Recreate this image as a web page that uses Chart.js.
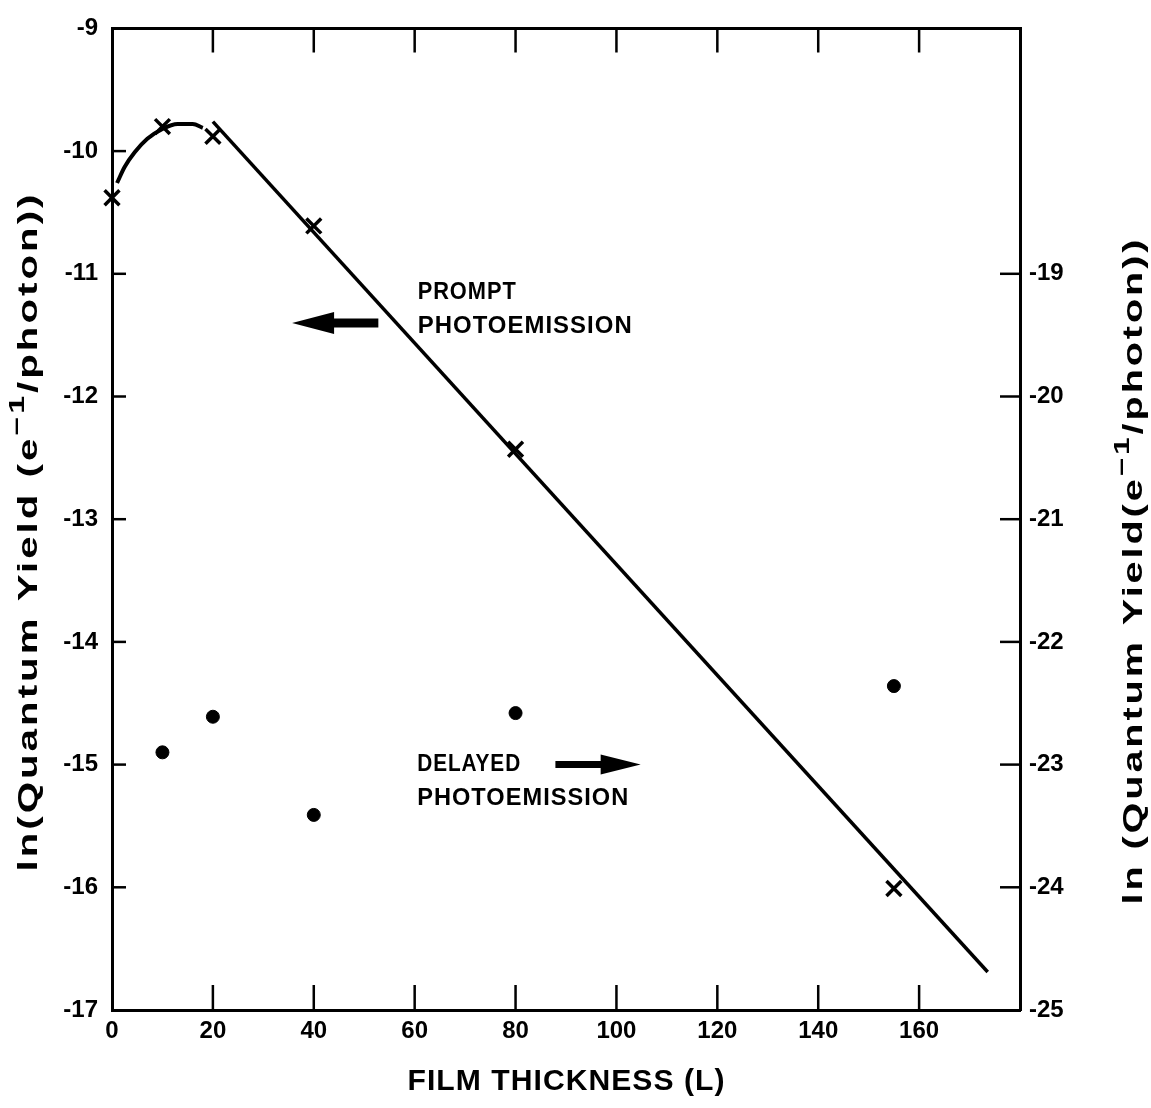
<!DOCTYPE html>
<html>
<head>
<meta charset="utf-8">
<script src="https://cdn.jsdelivr.net/npm/chart.js@4.4.1/dist/chart.umd.min.js"></script>
<style>
  html, body { margin: 0; padding: 0; background: #fff; }
  #wrap { width: 1151px; height: 1108px; position: relative; }
</style>
</head>
<body>
<div id="wrap"><canvas id="myChart"></canvas></div>
<script>
// values
var promptThickness = [0, 10, 20, 40, 80, 155];
var promptYield = [-10.38, -9.80, -9.88, -10.61, -12.43, -16.01];

var delayedThickness = [10, 20, 40, 80, 155];
var delayedYield = [-22.90, -22.61, -23.41, -22.58, -22.36];   // right axis

// hand drawn curve over the first points
var curveX = [1, 2.5, 4.5, 7, 10, 13, 16, 18];
var curveY = [-10.26, -10.13, -10.01, -9.90, -9.82, -9.78, -9.78, -9.81];

// straight fit line
var fitX = [20, 173.6];
var fitY = [-9.76, -16.69];

var xTicks = [0, 20, 40, 60, 80, 100, 120, 140, 160];
var leftTicks = [-9, -10, -11, -12, -13, -14, -15, -16, -17];
var rightTicks = [-19, -20, -21, -22, -23, -24, -25];

var FONT = "'Liberation Sans', Arial, sans-serif";

function pts(xs, ys) {
    return xs.map(function (v, i) { return {x: v, y: ys[i]}; });
}

// draw text centred on (cx, cy), stretched to a given length
function drawFit(ctx, parts, cx, cy, rot, len, size, spacing) {
    ctx.save();
    ctx.translate(cx, cy);
    ctx.rotate(rot);
    ctx.fillStyle = '#000';
    ctx.textBaseline = 'middle';
    ctx.textAlign = 'left';
    ctx.letterSpacing = spacing + 'px';
    var total = 0;
    parts.forEach(function (p) {
        ctx.font = 'bold ' + (p.sup ? size * 0.8 : size) + 'px ' + FONT;
        total += ctx.measureText(p.t).width;
    });
    total -= spacing;
    var k = len / total;
    ctx.scale(k, 1);
    var x = -total / 2;
    parts.forEach(function (p) {
        ctx.font = 'bold ' + (p.sup ? size * 0.8 : size) + 'px ' + FONT;
        ctx.fillText(p.t, x, p.sup ? -size * 0.45 : 0);
        x += ctx.measureText(p.t).width;
    });
    ctx.restore();
}

function arrow(ctx, x0, x1, y, headLen, headH, shaft) {
    var dir = x1 > x0 ? 1 : -1;
    var hb = x1 - dir * headLen;
    ctx.beginPath();
    ctx.moveTo(x0, y - shaft / 2);
    ctx.lineTo(hb, y - shaft / 2);
    ctx.lineTo(hb, y - headH / 2);
    ctx.lineTo(x1, y);
    ctx.lineTo(hb, y + headH / 2);
    ctx.lineTo(hb, y + shaft / 2);
    ctx.lineTo(x0, y + shaft / 2);
    ctx.closePath();
    ctx.fill();
}

var decor = {
    id: 'decor',
    afterDraw: function (chart) {
        var ctx = chart.ctx;
        var sx = chart.scales.x, sy = chart.scales.y, sy2 = chart.scales.y2;
        var a = chart.chartArea;
        ctx.save();
        ctx.strokeStyle = '#000';
        ctx.fillStyle = '#000';
        ctx.lineWidth = 2.5;
        ctx.lineCap = 'butt';
        // inward tick marks
        xTicks.slice(1).forEach(function (v) {
            var px = sx.getPixelForValue(v);
            ctx.beginPath();
            ctx.moveTo(px, a.bottom); ctx.lineTo(px, a.bottom - 25);
            ctx.moveTo(px, a.top); ctx.lineTo(px, a.top + 24);
            ctx.stroke();
        });
        leftTicks.slice(1, -1).forEach(function (v) {
            var py = sy.getPixelForValue(v);
            ctx.beginPath();
            ctx.moveTo(a.left, py); ctx.lineTo(a.left + 14, py);
            ctx.stroke();
        });
        rightTicks.slice(0, -1).forEach(function (v) {
            var py = sy2.getPixelForValue(v);
            ctx.beginPath();
            ctx.moveTo(a.right, py); ctx.lineTo(a.right - 20, py);
            ctx.stroke();
        });

        // annotations
        var tx = sx.getPixelForValue(60.6);
        drawFit(ctx, [{t: 'PROMPT'}], tx + 49, sy.getPixelForValue(-11.15), 0, 98, 23, 1);
        drawFit(ctx, [{t: 'PHOTOEMISSION'}], tx + 107, sy.getPixelForValue(-11.43), 0, 214, 23, 1);
        drawFit(ctx, [{t: 'DELAYED'}], tx + 51, sy.getPixelForValue(-15.0), 0, 103, 23, 1);
        drawFit(ctx, [{t: 'PHOTOEMISSION'}], tx + 105, sy.getPixelForValue(-15.28), 0, 211, 23, 1);
        arrow(ctx, sx.getPixelForValue(52.8), sx.getPixelForValue(35.7),
              sy.getPixelForValue(-11.40), 42, 22, 9);
        arrow(ctx, sx.getPixelForValue(87.9), sx.getPixelForValue(104.8),
              sy.getPixelForValue(-15.0), 40, 20, 7);

        // axis titles
        drawFit(ctx, [{t: 'ln(Quantum Yield (e'}, {t: '\u22121', sup: true}, {t: '/photon))'}],
                30, 533, -Math.PI / 2, 677, 27, 2);
        drawFit(ctx, [{t: 'ln (Quantum Yield(e'}, {t: '\u22121', sup: true}, {t: '/photon))'}],
                1135, 572, -Math.PI / 2, 665, 27, 2);
        drawFit(ctx, [{t: 'FILM THICKNESS (L)'}], 566, 1082, 0, 317, 29, 1);
        ctx.restore();
    }
};

var tickFont = {family: FONT, size: 24, weight: 'bold'};

var ctx = document.getElementById('myChart').getContext('2d');
var chart = new Chart(ctx, {
    type: 'scatter',
    data: {
        datasets: [{
            data: pts(curveX, curveY),
            showLine: true,
            borderColor: '#000',
            borderWidth: 4,
            pointRadius: 0,
            cubicInterpolationMode: 'monotone',
            yAxisID: 'y'
        }, {
            data: pts(fitX, fitY),
            showLine: true,
            borderColor: '#000',
            borderWidth: 3.5,
            pointRadius: 0,
            yAxisID: 'y'
        }, {
            data: pts(promptThickness, promptYield),
            pointStyle: 'crossRot',
            pointRadius: 10.5,
            borderWidth: 3.5,
            borderColor: '#000',
            clip: false,
            yAxisID: 'y'
        }, {
            data: pts(delayedThickness, delayedYield),
            pointStyle: 'circle',
            pointRadius: 6.5,
            backgroundColor: '#000',
            borderColor: '#000',
            yAxisID: 'y2'
        }]
    },
    options: {
        responsive: true,
        maintainAspectRatio: false,
        animation: false,
        layout: {padding: {top: 21, left: 0, right: 0, bottom: 0}},
        plugins: {legend: {display: false}, tooltip: {enabled: false}},
        scales: {
            x: {
                type: 'linear', position: 'bottom', min: 0, max: 180,
                afterFit: function (s) { s.height = 98; },
                afterBuildTicks: function (s) {
                    s.ticks = xTicks.concat([180]).map(function (v) { return {value: v}; });
                },
                ticks: {
                    color: '#000', font: tickFont, padding: 7, maxRotation: 0,
                    callback: function (v) { return xTicks.indexOf(v) >= 0 ? String(v) : ''; }
                },
                grid: {display: false, drawTicks: false},
                border: {display: true, color: '#000', width: 3}
            },
            x2: {
                type: 'linear', position: 'top', min: 0, max: 180,
                afterFit: function (s) { s.height = 0; },
                ticks: {display: false},
                grid: {display: false, drawTicks: false},
                border: {display: true, color: '#000', width: 3}
            },
            y: {
                type: 'linear', position: 'left', min: -17, max: -9,
                afterFit: function (s) { s.width = 112; },
                afterBuildTicks: function (s) {
                    s.ticks = leftTicks.map(function (v) { return {value: v}; });
                },
                ticks: {color: '#000', font: tickFont, padding: 14},
                grid: {display: false, drawTicks: false},
                border: {display: true, color: '#000', width: 3}
            },
            y2: {
                type: 'linear', position: 'right', min: -25, max: -17,
                afterFit: function (s) { s.width = 131; },
                afterBuildTicks: function (s) {
                    s.ticks = rightTicks.map(function (v) { return {value: v}; });
                },
                ticks: {color: '#000', font: tickFont, padding: 9},
                grid: {display: false, drawTicks: false},
                border: {display: true, color: '#000', width: 3}
            }
        }
    },
    plugins: [decor]
});
</script>
</body>
</html>
